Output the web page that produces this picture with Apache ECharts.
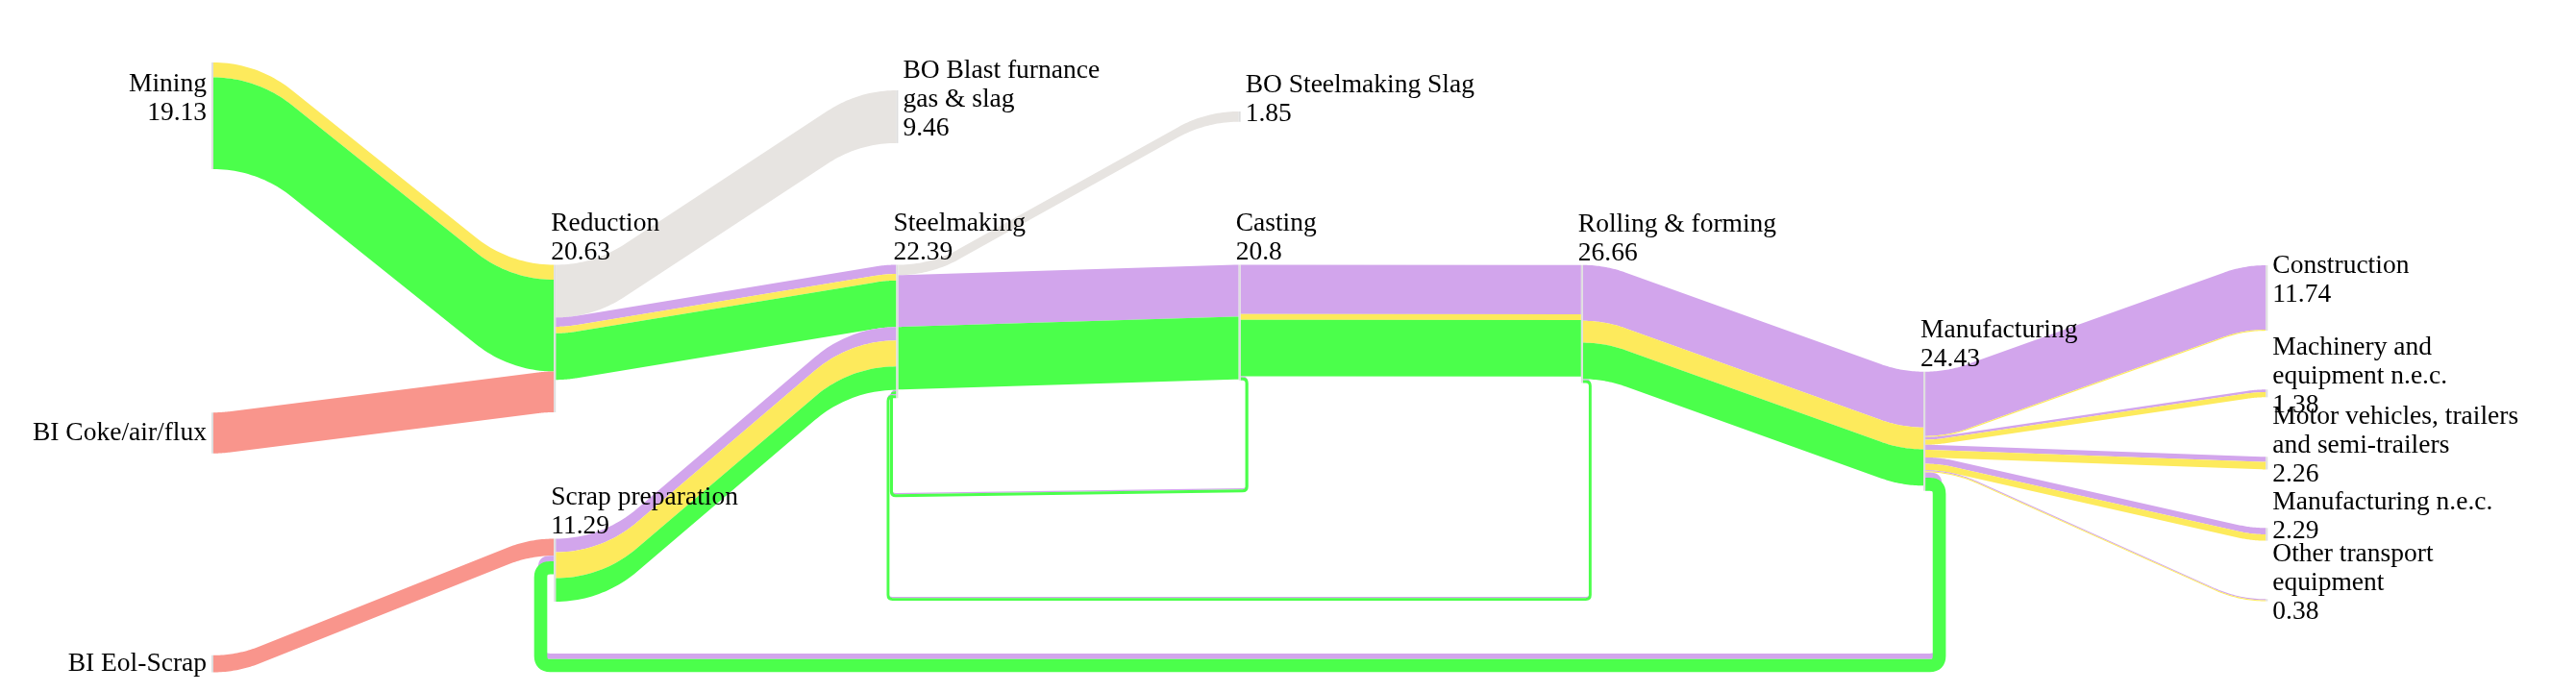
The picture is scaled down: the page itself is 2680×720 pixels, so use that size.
<!DOCTYPE html>
<html>
<head>
<meta charset="utf-8">
<script src="https://cdn.jsdelivr.net/npm/echarts@6/dist/echarts.min.js"></script>
<style>
html,body{margin:0;padding:0;background:#ffffff;}
#chart{width:2680px;height:720px;}
</style>
</head>
<body>
<div id="chart"></div>
<script>
// ================= DATA =================
const nodeNames = ['Mining', 'BI Coke/air/flux', 'BI Eol-Scrap', 'Reduction', 'Scrap preparation',
  'BO Blast furnance gas & slag', 'Steelmaking', 'BO Steelmaking Slag', 'Casting', 'Rolling & forming',
  'Manufacturing', 'Construction', 'Machinery and equipment n.e.c.',
  'Motor vehicles, trailers and semi-trailers', 'Manufacturing n.e.c.', 'Other transport equipment'];
const nodeValues = [19.13, null, null, 20.63, 11.29, 9.46, 22.39, 1.85, 20.8, 26.66, 24.43,
  11.74, 1.38, 2.26, 2.29, 0.38];
const nodeLabelLines = [['Mining'], ['BI Coke/air/flux'], ['BI Eol-Scrap'], ['Reduction'], ['Scrap preparation'],
  ['BO Blast furnance', 'gas & slag'], ['Steelmaking'], ['BO Steelmaking Slag'], ['Casting'], ['Rolling & forming'],
  ['Manufacturing'], ['Construction'], ['Machinery and', 'equipment n.e.c.'],
  ['Motor vehicles, trailers', 'and semi-trailers'], ['Manufacturing n.e.c.'], ['Other transport', 'equipment']];

const flowTypes = ['yellow', 'green', 'purple', 'input', 'loss'];

const linkSource = ['Mining', 'Mining', 'BI Coke/air/flux',
  'Reduction', 'Reduction', 'Reduction', 'Reduction',
  'BI Eol-Scrap',
  'Scrap preparation', 'Scrap preparation', 'Scrap preparation',
  'Steelmaking', 'Steelmaking', 'Steelmaking',
  'Casting', 'Casting', 'Casting', 'Casting', 'Casting',
  'Rolling & forming', 'Rolling & forming', 'Rolling & forming', 'Rolling & forming', 'Rolling & forming',
  'Manufacturing', 'Manufacturing', 'Manufacturing', 'Manufacturing', 'Manufacturing', 'Manufacturing',
  'Manufacturing', 'Manufacturing', 'Manufacturing', 'Manufacturing', 'Manufacturing', 'Manufacturing'];
const linkTarget = ['Reduction', 'Reduction', 'Reduction',
  'BO Blast furnance gas & slag', 'Steelmaking', 'Steelmaking', 'Steelmaking',
  'Scrap preparation',
  'Steelmaking', 'Steelmaking', 'Steelmaking',
  'BO Steelmaking Slag', 'Casting', 'Casting',
  'Rolling & forming', 'Rolling & forming', 'Rolling & forming', 'Steelmaking', 'Steelmaking',
  'Manufacturing', 'Manufacturing', 'Manufacturing', 'Steelmaking', 'Steelmaking',
  'Construction', 'Construction', 'Machinery and equipment n.e.c.', 'Machinery and equipment n.e.c.',
  'Motor vehicles, trailers and semi-trailers', 'Motor vehicles, trailers and semi-trailers',
  'Manufacturing n.e.c.', 'Manufacturing n.e.c.', 'Other transport equipment', 'Other transport equipment',
  'Scrap preparation', 'Scrap preparation'];
const linkType = ['yellow', 'green', 'input',
  'loss', 'purple', 'yellow', 'green',
  'input',
  'purple', 'yellow', 'green',
  'loss', 'purple', 'green',
  'purple', 'yellow', 'green', 'purple', 'green',
  'purple', 'yellow', 'green', 'purple', 'green',
  'purple', 'yellow', 'purple', 'yellow', 'purple', 'yellow',
  'purple', 'yellow', 'purple', 'yellow', 'purple', 'green'];
const linkValue = [2.68, 16.45, 7.33,
  9.46, 1.65, 1.18, 8.34,
  3.05,
  2.42, 4.66, 4.21,
  1.85, 9.3, 11.24,
  8.85, 1.03, 10.1, 0.2, 0.55,
  10.0, 3.93, 6.52, 0.2, 0.5,
  11.55, 0.19, 0.46, 0.92, 0.9, 1.36,
  1.15, 1.14, 0.2, 0.18, 0.98, 2.35];

// ================= LAYOUT / STYLE (not data) =================
const KY = 5.8;               // px per flow unit
const CHART_H = 720;
const nodeColumn = [0, 0, 0, 1, 1, 2, 2, 3, 3, 4, 5, 6, 6, 6, 6, 6];
const nodeTop = [11.21, 74.0, 117.55, 47.5, 96.64, 16.21, 47.5, 20.0, 47.5, 47.55, 66.67,
  47.59, 69.88, 81.95, 94.71, 107.47];   // in flow units from top
const labelSide = ['left', 'left', 'left', 'above', 'above', 'right', 'above', 'right', 'above', 'above', 'above',
  'right', 'right', 'right', 'right', 'right'];
const loopLayout = [
  { src: 'Manufacturing', tgt: 'Scrap preparation', outX: 14.5, inX: 13.7, bottomR: 117.24, bottomL: 117.24, r: 10 },
  { src: 'Casting', tgt: 'Steelmaking', outX: 6.5, inX: 5, bottomR: 87.59, bottomL: 88.45, r: 4.5 },
  { src: 'Rolling & forming', tgt: 'Steelmaking', outX: 7.5, inX: 8.5, bottomR: 107.07, bottomL: 107.07, r: 4.5 }
];
const LINK_RADIUS = 130;      // bend radius of flow bands (px)
const typeColors = { yellow: '#fdea5c', green: '#4bff4b', purple: '#d2a5ec', input: '#f9958c', loss: '#e7e4e1' };
const FONT = '"Liberation Serif", "Times New Roman", serif';
const FONT_SIZE = 27.5;
const LINE_H = 30;

// ================= DERIVED =================
const nodeIndex = {};
nodeNames.forEach((n, i) => { nodeIndex[n] = i; });
const outAcc = nodeNames.map(() => 0), inAcc = nodeNames.map(() => 0);
const linkOutY = [], linkInY = [];
linkValue.forEach((v, i) => {
  const s = nodeIndex[linkSource[i]], t = nodeIndex[linkTarget[i]];
  linkOutY[i] = nodeTop[s] + outAcc[s]; outAcc[s] += v;
  linkInY[i] = nodeTop[t] + inAcc[t]; inAcc[t] += v;
});
const nodeSize = nodeNames.map((_, n) => Math.max(outAcc[n], inAcc[n]));
const isLoop = i => nodeColumn[nodeIndex[linkTarget[i]]] <= nodeColumn[nodeIndex[linkSource[i]]];
const loopAcc = {};
const loopInfo = [];
linkValue.forEach((v, i) => {
  if (!isLoop(i)) return;
  const L = loopLayout.find(l => l.src === linkSource[i] && l.tgt === linkTarget[i]);
  const key = L.src + '>' + L.tgt;
  const off = loopAcc[key] || 0;
  loopInfo[i] = { L: L, bR: L.bottomR + off, bL: L.bottomL + off };
  loopAcc[key] = off + v;
});
const forwardIdx = [], loopIdx = [];
linkValue.forEach((v, i) => { (isLoop(i) ? loopIdx : forwardIdx).push([i, 0]); });
const nodeData = nodeNames.map((n, i) => [i, 0]);

function geom(api, i) {
  const s = nodeIndex[linkSource[i]], t = nodeIndex[linkTarget[i]];
  const zero = api.coord([0, 0])[1];
  const w = Math.abs(api.coord([0, linkValue[i]])[1] - zero);
  const a = api.coord([nodeColumn[s], linkOutY[i]]);
  const b = api.coord([nodeColumn[t], linkInY[i]]);
  return { w: w, x0: a[0] + 1, y0: a[1], x1: b[0] - 1, y1: b[1] };
}

// centre line: arc - straight - arc, horizontal at both ends
function centreLine(x0, c0, x1, c1) {
  const dx = x1 - x0, dyS = c1 - c0, dy = Math.abs(dyS), sg = dyS < 0 ? -1 : 1;
  if (dy < 0.01) return [[x0, c0], [x1, c1]];
  const R = Math.min(LINK_RADIUS, dx / 2);
  const f = th => 2 * R * (1 - Math.cos(th)) + (dx - 2 * R * Math.sin(th)) * Math.tan(th) - dy;
  let lo = 0, hi = Math.min(Math.asin(Math.min(1, dx / (2 * R))), Math.PI / 2 - 1e-4);
  if (f(hi) < 0) hi = Math.PI / 2 - 1e-4;
  for (let k = 0; k < 60; k++) { const m = (lo + hi) / 2; if (f(m) > 0) hi = m; else lo = m; }
  const th = (lo + hi) / 2;
  const pts = [], n = 24;
  for (let k = 0; k <= n; k++) {
    const p = th * k / n;
    pts.push([x0 + R * Math.sin(p), c0 + sg * R * (1 - Math.cos(p))]);
  }
  for (let k = n; k >= 0; k--) {
    const p = th * k / n;
    pts.push([x1 - R * Math.sin(p), c1 - sg * R * (1 - Math.cos(p))]);
  }
  return pts;
}

function renderLink(params, api) {
  const i = api.value(0);
  const g = geom(api, i);
  const pts = centreLine(g.x0, g.y0 + g.w / 2, g.x1, g.y1 + g.w / 2);
  const h = g.w / 2;
  let d = '';
  pts.forEach((p, k) => { d += (k === 0 ? 'M' : ' L') + p[0].toFixed(2) + ' ' + (p[1] - h).toFixed(2); });
  for (let k = pts.length - 1; k >= 0; k--) d += ' L' + pts[k][0].toFixed(2) + ' ' + (pts[k][1] + h).toFixed(2);
  d += ' Z';
  return { type: 'path', shape: { pathData: d }, style: { fill: typeColors[linkType[i]], stroke: null } };
}

function renderLoop(params, api) {
  const i = api.value(0);
  const g = geom(api, i);
  const info = loopInfo[i];
  const L = info.L, r = L.r;
  const ys = g.y0 + g.w / 2, yt = g.y1 + g.w / 2;
  const xr = g.x0 + L.outX, xl = g.x1 - L.inX;
  const ybR = api.coord([0, info.bR])[1] + g.w / 2;
  const ybL = api.coord([0, info.bL])[1] + g.w / 2;
  const d = 'M' + g.x0 + ' ' + ys +
    ' L' + (xr - r) + ' ' + ys + ' Q' + xr + ' ' + ys + ' ' + xr + ' ' + (ys + r) +
    ' L' + xr + ' ' + (ybR - r) + ' Q' + xr + ' ' + ybR + ' ' + (xr - r) + ' ' + ybR +
    ' L' + (xl + r) + ' ' + ybL + ' Q' + xl + ' ' + ybL + ' ' + xl + ' ' + (ybL - r) +
    ' L' + xl + ' ' + (yt + r) + ' Q' + xl + ' ' + yt + ' ' + (xl + r) + ' ' + yt +
    ' L' + g.x1 + ' ' + yt;
  return { type: 'path', shape: { pathData: d },
    style: { fill: 'none', stroke: typeColors[linkType[i]], lineWidth: g.w, lineJoin: 'round', lineCap: 'butt' } };
}

function renderNode(params, api) {
  const n = api.value(0);
  const a = api.coord([nodeColumn[n], nodeTop[n]]);
  const b = api.coord([nodeColumn[n], nodeTop[n] + nodeSize[n]]);
  return { type: 'rect', shape: { x: a[0] - 1, y: a[1], width: 2, height: b[1] - a[1] },
    style: { fill: '#dedede' } };
}

function renderLabel(params, api) {
  const n = api.value(0);
  const lines = nodeLabelLines[n].slice();
  if (nodeValues[n] != null) lines.push(String(nodeValues[n]));
  const top = api.coord([nodeColumn[n], nodeTop[n]]);
  const bot = api.coord([nodeColumn[n], nodeTop[n] + nodeSize[n]]);
  const nx = top[0];
  const side = labelSide[n];
  const k = lines.length;
  let x, align, ys = [];
  if (side === 'above') {
    x = nx - 4; align = 'left';
    for (let j = 0; j < k; j++) ys.push(top[1] - 12.5 - (k - 1 - j) * LINE_H);
  } else {
    const cy = (top[1] + bot[1]) / 2 + (k > 1 ? -18 : 0);
    if (side === 'left') { x = nx - 6; align = 'right'; } else { x = nx + 6; align = 'left'; }
    for (let j = 0; j < k; j++) ys.push(cy + (j - (k - 1) / 2) * LINE_H);
  }
  return {
    type: 'group',
    children: lines.map((t, j) => ({
      type: 'text', x: x, y: ys[j],
      style: { legacy: false, text: t, fill: '#000', fontSize: FONT_SIZE, fontFamily: FONT,
        align: align, verticalAlign: 'middle' }
    }))
  };
}

const chart = echarts.init(document.getElementById('chart'), null, { renderer: 'canvas' });
chart.setOption({
  animation: false,
  backgroundColor: '#ffffff',
  grid: { left: 221, right: 321.7, top: 0, bottom: 0, containLabel: false },
  xAxis: { type: 'value', min: 0, max: 6, show: false },
  yAxis: { type: 'value', min: 0, max: CHART_H / KY, inverse: true, show: false },
  series: [
    { type: 'custom', name: 'flows', coordinateSystem: 'cartesian2d', clip: false, data: forwardIdx, renderItem: renderLink, silent: true },
    { type: 'custom', name: 'recycling', coordinateSystem: 'cartesian2d', clip: false, data: loopIdx, renderItem: renderLoop, silent: true },
    { type: 'custom', name: 'nodes', coordinateSystem: 'cartesian2d', clip: false, data: nodeData, renderItem: renderNode, silent: true },
    { type: 'custom', name: 'labels', coordinateSystem: 'cartesian2d', clip: false, data: nodeData, renderItem: renderLabel, silent: true }
  ]
});
</script>
</body>
</html>
